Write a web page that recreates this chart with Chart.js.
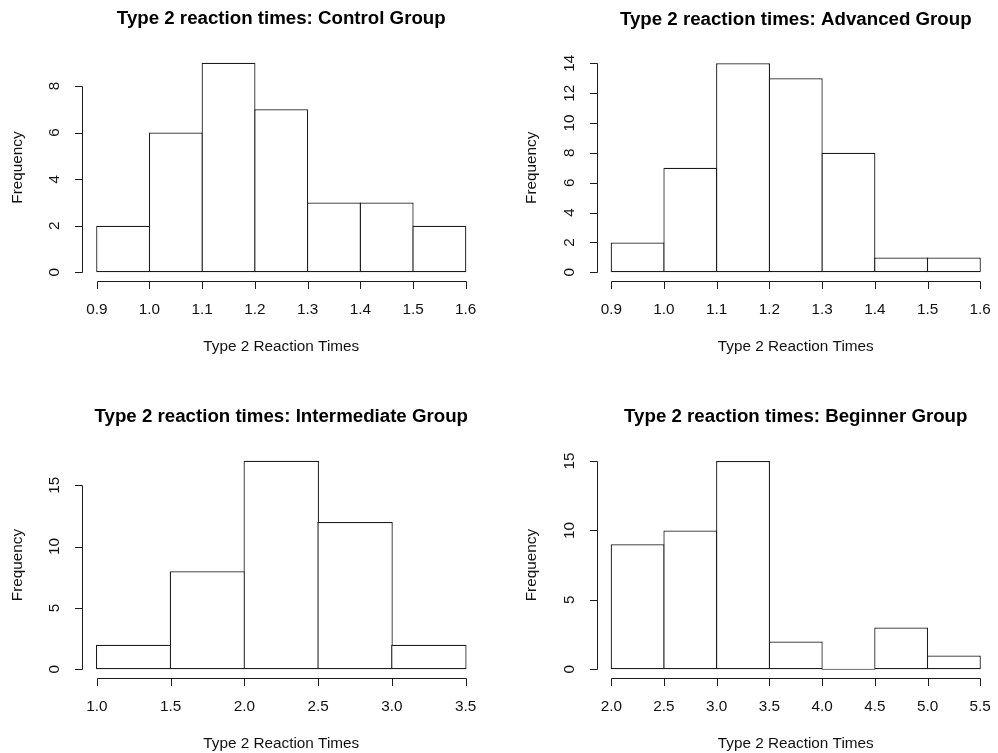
<!DOCTYPE html>
<html>
<head>
<meta charset="utf-8">
<title>Type 2 reaction times</title>
<script src="https://cdn.jsdelivr.net/npm/chart.js@4.4.1/dist/chart.umd.min.js"></script>
<style>
  html, body { margin: 0; padding: 0; background: #fff; }
  #wrap { position: relative; width: 998px; height: 753px; overflow: hidden; }
  canvas { position: absolute; }
</style>
</head>
<body>
<div id="wrap">
  <canvas id="control" width="499" height="376" style="left:0;top:0"></canvas>
  <canvas id="advanced" width="499" height="376" style="left:499px;top:0"></canvas>
  <canvas id="intermediate" width="499" height="377" style="left:0;top:376px"></canvas>
  <canvas id="beginner" width="499" height="377" style="left:499px;top:376px"></canvas>
</div>
<script>
// histogram bin edges
const fastBreaks = [0.9, 1.0, 1.1, 1.2, 1.3, 1.4, 1.5, 1.6];
const intermediateBreaks = [1.0, 1.5, 2.0, 2.5, 3.0, 3.5];
const beginnerBreaks = [2.0, 2.5, 3.0, 3.5, 4.0, 4.5, 5.0, 5.5];

// counts per bin
const controlCounts = [2, 6, 9, 7, 3, 3, 2];
const advancedCounts = [2, 7, 14, 13, 8, 1, 1];
const intermediateCounts = [2, 8, 17, 12, 2];
const beginnerCounts = [9, 10, 15, 2, 0, 3, 1];

// y axis ticks
const controlYTicks = [0, 2, 4, 6, 8];
const advancedYTicks = [0, 2, 4, 6, 8, 10, 12, 14];
const intermediateYTicks = [0, 5, 10, 15];
const beginnerYTicks = [0, 5, 10, 15];

const titles = {
  control: 'Type 2 reaction times: Control Group',
  advanced: 'Type 2 reaction times: Advanced Group',
  intermediate: 'Type 2 reaction times: Intermediate Group',
  beginner: 'Type 2 reaction times: Beginner Group'
};
const xLabel = 'Type 2 Reaction Times';
const yLabel = 'Frequency';

const ink = '#1c1c1c';
const labelFont = '15.3px "Liberation Sans", Arial, sans-serif';
const titleFont = 'bold 18.7px "Liberation Sans", Arial, sans-serif';

// R style axes, drawn off the chart's own scales
const rAxes = {
  id: 'rAxes',
  afterDraw(chart) {
    const o = chart.options.plugins.rAxes;
    const { ctx, chartArea: a, scales: { x, y } } = chart;
    ctx.save();
    ctx.strokeStyle = ink;
    ctx.fillStyle = '#111';
    ctx.lineWidth = 1;

    // x axis
    const yb = Math.round(a.bottom) + 0.5;
    const x0 = Math.round(x.getPixelForValue(o.xTicks[0])) + 0.5;
    const x1 = Math.round(x.getPixelForValue(o.xTicks[o.xTicks.length - 1])) + 0.5;
    ctx.beginPath();
    ctx.moveTo(x0, yb); ctx.lineTo(x1, yb);
    o.xTicks.forEach(t => {
      const px = Math.round(x.getPixelForValue(t)) + 0.5;
      ctx.moveTo(px, yb); ctx.lineTo(px, yb + 7.5);
    });
    ctx.stroke();
    ctx.font = labelFont;
    ctx.textAlign = 'center';
    ctx.textBaseline = 'middle';
    o.xTicks.forEach(t => ctx.fillText(t.toFixed(1), x.getPixelForValue(t), a.bottom + 29));

    // y axis
    const xl = Math.round(a.left) + 0.5;
    const y0 = Math.round(y.getPixelForValue(o.yTicks[0])) + 0.5;
    const y1 = Math.round(y.getPixelForValue(o.yTicks[o.yTicks.length - 1])) + 0.5;
    ctx.beginPath();
    ctx.moveTo(xl, y0); ctx.lineTo(xl, y1);
    o.yTicks.forEach(t => {
      const py = Math.round(y.getPixelForValue(t)) + 0.5;
      ctx.moveTo(xl, py); ctx.lineTo(xl - 7.5, py);
    });
    ctx.stroke();
    o.yTicks.forEach(t => {
      ctx.save();
      ctx.translate(a.left - 27, y.getPixelForValue(t));
      ctx.rotate(-Math.PI / 2);
      ctx.fillText(String(t), 0, 0);
      ctx.restore();
    });

    // axis titles
    ctx.fillText(xLabel, (a.left + a.right) / 2, a.bottom + 66.5);
    ctx.save();
    ctx.translate(a.left - 64.5, (a.top + a.bottom) / 2);
    ctx.rotate(-Math.PI / 2);
    ctx.fillText(yLabel, 0, 0);
    ctx.restore();

    // main title
    ctx.fillStyle = '#000';
    ctx.font = titleFont;
    ctx.fillText(o.title, (a.left + a.right) / 2, a.top - 35.5);
    ctx.restore();
  }
};

function histogram(id, breaks, counts, yTicks, pad) {
  const xr = breaks[breaks.length - 1] - breaks[0];
  const ymax = Math.max(...counts);
  const points = counts.map((c, i) => ({ x: (breaks[i] + breaks[i + 1]) / 2, y: c }));
  new Chart(document.getElementById(id), {
    type: 'bar',
    data: {
      datasets: [{
        data: points,
        backgroundColor: '#fff',
        borderColor: ink,
        borderWidth: 1.25,
        borderSkipped: false,
        barPercentage: 1.022,
        categoryPercentage: 1,
        minBarLength: 1.2
      }]
    },
    options: {
      responsive: false,
      animation: false,
      layout: { padding: pad },
      scales: {
        x: {
          type: 'linear', display: false, offset: false,
          min: breaks[0] - 0.04 * xr, max: breaks[breaks.length - 1] + 0.04 * xr
        },
        y: { display: false, min: -0.04 * ymax, max: ymax * 1.04 }
      },
      plugins: {
        legend: { display: false },
        tooltip: { enabled: false },
        rAxes: { title: titles[id], xTicks: breaks, yTicks: yTicks }
      }
    },
    plugins: [rAxes]
  });
}

histogram('control', fastBreaks, controlCounts, controlYTicks,
  { left: 82, right: 18.5, top: 54.3, bottom: 95.3 });
histogram('advanced', fastBreaks, advancedCounts, advancedYTicks,
  { left: 97.5, right: 3, top: 54.9, bottom: 95.3 });
histogram('intermediate', intermediateBreaks, intermediateCounts, intermediateYTicks,
  { left: 82, right: 18.5, top: 76.4, bottom: 75.4 });
histogram('beginner', beginnerBreaks, beginnerCounts, beginnerYTicks,
  { left: 97.5, right: 3, top: 76.6, bottom: 75.4 });
</script>
</body>
</html>
